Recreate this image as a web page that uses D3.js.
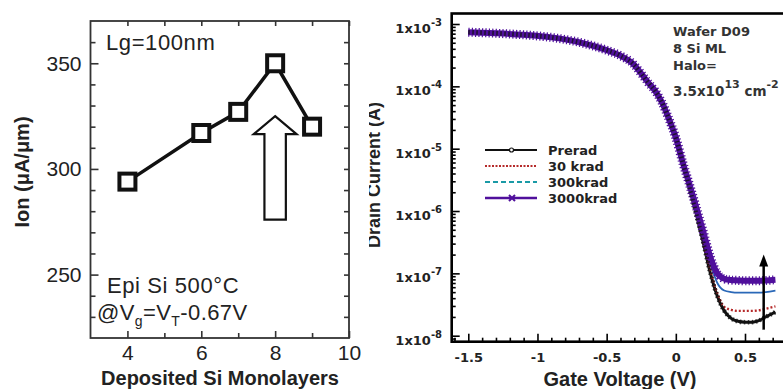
<!DOCTYPE html>
<html><head><meta charset="utf-8">
<script src="https://cdn.jsdelivr.net/npm/d3@7"></script>
<style>body{margin:0;background:#fff}svg{display:block}</style>
</head><body>
<svg id="c" width="783" height="389"></svg>
<script>
// ---------- Left panel data ----------
const monolayers = [4, 6, 7, 8, 9];
const ionValues = [294, 317, 327, 350, 320];
const leftXTicks = [4, 6, 8, 10];
const leftXMinor = [5, 7, 9];
const leftYTicks = [250, 300, 350];
const leftYMinor = [230, 240, 260, 270, 280, 290, 310, 320, 330, 340, 360];
const hollowArrow = {x: 8, tip: 325, neck: 316.5, base: 276, shaftHalf: 0.29, headHalf: 0.58};

// ---------- Right panel data ----------
const gateV = [-1.5,-1.3,-1.1,-0.9,-0.7,-0.5,-0.4,-0.3,-0.25,-0.2,-0.15,-0.1,-0.05,0,0.05,0.1,0.15,0.2,0.25,0.3,0.35,0.4,0.45,0.5,0.55,0.6,0.65,0.72];
const prerad   = [7.4e-4,7.1e-4,6.7e-4,6.1e-4,5.1e-4,3.8e-4,3.1e-4,2.2e-4,1.6e-4,1.15e-4,8.5e-5,5.5e-5,3.0e-5,1.5e-5,6.0e-6,2.3e-6,8.5e-7,3.0e-7,1.0e-7,4.3e-8,2.5e-8,1.9e-8,1.7e-8,1.65e-8,1.65e-8,1.75e-8,2.0e-8,2.4e-8];
const krad30   = [7.4e-4,7.1e-4,6.7e-4,6.1e-4,5.1e-4,3.8e-4,3.1e-4,2.2e-4,1.6e-4,1.15e-4,8.5e-5,5.5e-5,3.0e-5,1.5e-5,6.0e-6,2.4e-6,9.0e-7,3.2e-7,1.1e-7,4.8e-8,2.9e-8,2.6e-8,2.5e-8,2.5e-8,2.5e-8,2.55e-8,2.7e-8,2.95e-8];
const krad300  = [7.4e-4,7.1e-4,6.7e-4,6.1e-4,5.1e-4,3.8e-4,3.1e-4,2.2e-4,1.6e-4,1.15e-4,8.5e-5,5.5e-5,3.0e-5,1.5e-5,6.0e-6,2.6e-6,1.05e-6,4.2e-7,1.5e-7,7.0e-8,5.3e-8,5.0e-8,4.9e-8,4.9e-8,4.9e-8,4.9e-8,5.0e-8,5.3e-8];
const krad3000 = [7.4e-4,7.1e-4,6.7e-4,6.1e-4,5.1e-4,3.8e-4,3.1e-4,2.2e-4,1.6e-4,1.15e-4,8.5e-5,5.5e-5,3.0e-5,1.5e-5,6.0e-6,2.6e-6,1.1e-6,4.5e-7,1.8e-7,1.0e-7,8.2e-8,7.8e-8,7.7e-8,7.6e-8,7.6e-8,7.6e-8,7.7e-8,7.9e-8];
const seriesNames = ["Prerad", "30 krad", "300krad", "3000krad"];
const rightXTicks = [-1.5, -1, -0.5, 0, 0.5];
const rightXTickLabels = ["-1.5", "-1", "-0.5", "0", "0.5"];
const rightYTicks = [1e-3, 1e-4, 1e-5, 1e-6, 1e-7, 1e-8];
const rightYExp = ["-3", "-4", "-5", "-6", "-7", "-8"];
const doseArrow = {v: 0.635, from: 1.25e-8, to: 2.0e-7};

const svg = d3.select("#c");
svg.append("rect").attr("width", 783).attr("height", 389).attr("fill", "#fff");

// ================= LEFT PANEL =================
const xL = d3.scaleLinear([3, 10], [90.5, 349]);
const yL = d3.scaleLinear([220, 370], [338, 21]);
const L = svg.append("g");
const lfont = "'Liberation Sans', Arial, sans-serif";
const axisCol = "#333";

function styleAxis(g, size) {
  g.select(".domain").remove();
  g.selectAll("line").attr("stroke", axisCol).attr("stroke-width", 1.6);
  g.selectAll("text").attr("font-family", lfont).attr("font-size", size).attr("fill", "#222");
}
L.append("g").attr("transform", `translate(${xL(3)},0)`)
  .call(d3.axisLeft(yL).tickValues(leftYTicks).tickSize(-8).tickPadding(9).tickFormat(d3.format("d")))
  .call(g => styleAxis(g, 21));
L.append("g").attr("transform", `translate(${xL(3)},0)`)
  .call(d3.axisLeft(yL).tickValues(leftYMinor).tickSize(-5).tickFormat(""))
  .call(g => styleAxis(g, 21));
L.append("g").attr("transform", `translate(${xL(10)},0)`)
  .call(d3.axisRight(yL).tickValues(leftYTicks.concat(leftYMinor)).tickSize(-5).tickFormat(""))
  .call(g => styleAxis(g, 21));
L.append("g").attr("transform", `translate(0,${yL(220)})`)
  .call(d3.axisBottom(xL).tickValues(leftXTicks).tickSize(-7).tickPadding(7).tickFormat(d3.format("d")))
  .call(g => styleAxis(g, 21));
L.append("g").attr("transform", `translate(0,${yL(220)})`)
  .call(d3.axisBottom(xL).tickValues(leftXMinor).tickSize(-5).tickFormat(""))
  .call(g => styleAxis(g, 21));
L.append("g").attr("transform", `translate(0,${yL(370)})`)
  .call(d3.axisTop(xL).tickValues(leftXTicks.concat(leftXMinor)).tickSize(-5).tickFormat(""))
  .call(g => styleAxis(g, 21));
L.append("rect").attr("x", xL(3)).attr("y", yL(370))
  .attr("width", xL(10) - xL(3)).attr("height", yL(220) - yL(370))
  .attr("fill", "none").attr("stroke", axisCol).attr("stroke-width", 1.8);

const leftPts = monolayers.map((m, i) => [m, ionValues[i]]);
L.append("path").datum(leftPts)
  .attr("d", d3.line().x(d => xL(d[0])).y(d => yL(d[1])))
  .attr("fill", "none").attr("stroke", "#111").attr("stroke-width", 3.5);
L.selectAll("rect.mk").data(leftPts).join("rect").attr("class", "mk")
  .attr("x", d => xL(d[0]) - 8).attr("y", d => yL(d[1]) - 8)
  .attr("width", 16).attr("height", 16)
  .attr("fill", "#fff").attr("stroke", "#111").attr("stroke-width", 4);

// hollow arrow
const A = hollowArrow;
const arrowPts = [
  [A.x, A.tip], [A.x + A.headHalf, A.neck], [A.x + A.shaftHalf, A.neck], [A.x + A.shaftHalf, A.base],
  [A.x - A.shaftHalf, A.base], [A.x - A.shaftHalf, A.neck], [A.x - A.headHalf, A.neck]
];
L.append("path").attr("d", d3.line().x(d => xL(d[0])).y(d => yL(d[1]))(arrowPts) + "Z")
  .attr("fill", "#fff").attr("stroke", "#111").attr("stroke-width", 2.2).attr("stroke-linejoin", "miter");

// annotations
const annFont = "'Liberation Sans', Arial, sans-serif";
L.append("text").attr("x", 106).attr("y", 50).attr("font-family", annFont).attr("font-size", 22)
  .attr("letter-spacing", 0.6).attr("fill", "#222").text("Lg=100nm");
L.append("text").attr("x", 107).attr("y", 293).attr("font-family", annFont).attr("font-size", 22)
  .attr("letter-spacing", 0.6).attr("fill", "#222").text("Epi Si 500°C");
const t3 = L.append("text").attr("x", 97).attr("y", 320).attr("font-family", annFont).attr("font-size", 22)
  .attr("letter-spacing", 0.4).attr("fill", "#222");
t3.append("tspan").text("@V");
t3.append("tspan").attr("font-size", 14).attr("dy", 6).text("g");
t3.append("tspan").attr("dy", -6).text("=V");
t3.append("tspan").attr("font-size", 14).attr("dy", 6).text("T");
t3.append("tspan").attr("dy", -6).text("-0.67V");

// axis titles
L.append("text").attr("x", 220).attr("y", 385).attr("text-anchor", "middle")
  .attr("font-family", lfont).attr("font-weight", "bold").attr("font-size", 20).attr("fill", "#222")
  .text("Deposited Si Monolayers");
L.append("text").attr("transform", "translate(29,172) rotate(-90)").attr("text-anchor", "middle")
  .attr("font-family", lfont).attr("font-weight", "bold").attr("font-size", 20).attr("fill", "#222")
  .text("Ion (μA/μm)");

// ================= RIGHT PANEL =================
const xR = d3.scaleLinear([-1.5, 0.5], [468.3, 745]);
const yR = d3.scaleLog([1e-8, 1e-3], [335.7, 24]);
const frameL = 451.7, frameT = 13.5, frameB = 341.7, frameR = 790;
const R = svg.append("g");
const rfont = "'DejaVu Sans', sans-serif";
svg.append("defs").append("clipPath").attr("id", "rclip")
  .append("rect").attr("x", 369).attr("y", 0).attr("width", 430).attr("height", 389);
const RC = R.append("g").attr("clip-path", "url(#rclip)");

// curves
const idx = gateV.map((v, i) => i);
const lineR = arr => d3.line().curve(d3.curveMonotoneX).x(i => xR(gateV[i])).y(i => yR(arr[i]))(idx);
const curveStyles = [
  {data: prerad, color: "#111", width: 3, dash: null},
  {data: krad30, color: "#b52a2a", width: 2.4, dash: "2,2"},
  {data: krad300, color: "#2a68b8", width: 1.8, dash: null},
  {data: krad3000, color: "#50109c", width: 6, dash: null}
];
svg.select("defs").append("clipPath").attr("id", "pclip")
  .append("rect").attr("x", frameL).attr("y", frameT).attr("width", 783 - frameL).attr("height", frameB - frameT);
const P = R.append("g").attr("clip-path", "url(#pclip)");
curveStyles.forEach(s => {
  P.append("path").attr("d", lineR(s.data)).attr("fill", "none")
    .attr("stroke", s.color).attr("stroke-width", s.width)
    .attr("stroke-dasharray", s.dash).attr("stroke-linejoin", "round");
});
// marker texture on the 3000krad curve
P.append("path").attr("d", lineR(krad3000)).attr("fill", "none")
  .attr("stroke", "#50109c").attr("stroke-width", 9).attr("stroke-dasharray", "1.2,2.2");
// preraad markers texture near bottom
P.append("path").attr("d", lineR(prerad)).attr("fill", "none")
  .attr("stroke", "#111").attr("stroke-width", 4.5).attr("stroke-dasharray", "1.5,2.5").attr("opacity", 0.8);

// dose arrow
const ax = xR(doseArrow.v), ay0 = yR(doseArrow.from), ay1 = yR(doseArrow.to);
R.append("line").attr("x1", ax).attr("x2", ax).attr("y1", ay0).attr("y2", ay1 + 8)
  .attr("stroke", "#000").attr("stroke-width", 2.5);
R.append("path").attr("d", `M${ax},${ay1} L${ax + 4.5},${ay1 + 12} L${ax - 4.5},${ay1 + 12} Z`).attr("fill", "#000");

// axes
function styleR(g) {
  g.select(".domain").remove();
  g.selectAll("line").attr("stroke", "#000").attr("stroke-width", 1.6);
  g.selectAll("text").attr("font-family", rfont).attr("font-weight", "bold").attr("font-size", 13).attr("fill", "#222");
}
const yMinor = [];
for (let e = -9; e <= -3; e++) for (let k = 2; k <= 9; k++) { const v = k * Math.pow(10, e); if (v > 8e-9 && v < 1.45e-3) yMinor.push(v); }
R.append("g").attr("transform", `translate(${frameL},0)`)
  .call(d3.axisLeft(yR).tickValues(rightYTicks).tickSize(-8).tickFormat(""))
  .call(styleR);
R.append("g").attr("transform", `translate(${frameL},0)`)
  .call(d3.axisLeft(yR).tickValues(yMinor).tickSize(-4).tickFormat(""))
  .call(styleR);
const xMinor = d3.range(-16, 8).map(d => d / 10).filter(d => !rightXTicks.some(t => Math.abs(t - d) < 1e-9) && d > -1.62);
R.append("g").attr("transform", `translate(0,${frameB})`)
  .call(d3.axisBottom(xR).tickValues(rightXTicks).tickSize(-8).tickPadding(11).tickFormat((d, i) => rightXTickLabels[i]))
  .call(styleR);
R.append("g").attr("transform", `translate(0,${frameB})`)
  .call(d3.axisBottom(xR).tickValues(xMinor).tickSize(-4).tickFormat(""))
  .call(styleR);
// y tick labels with superscripts
rightYTicks.forEach((v, i) => {
  const t = R.append("text").attr("x", 442).attr("y", yR(v) + 9).attr("text-anchor", "end")
    .attr("font-family", rfont).attr("font-weight", "bold").attr("font-size", 13).attr("fill", "#222");
  t.append("tspan").text("1x10");
  t.append("tspan").attr("font-size", 10).attr("dy", -7).text(rightYExp[i]);
});
// frame
R.append("rect").attr("x", frameL).attr("y", frameT).attr("width", frameR - frameL).attr("height", frameB - frameT)
  .attr("fill", "none").attr("stroke", "#000").attr("stroke-width", 2.6);

// legend
const legY = [150, 166, 182, 198];
const legX0 = 485, legX1 = 537;
const legStyles = [
  {color: "#111", width: 2.2, dash: null},
  {color: "#b52a2a", width: 2.2, dash: "2,1.5"},
  {color: "#1a9aa6", width: 2.2, dash: "5,3"},
  {color: "#50109c", width: 2.4, dash: null}
];
seriesNames.forEach((name, i) => {
  const s = legStyles[i];
  R.append("line").attr("x1", legX0).attr("x2", legX1).attr("y1", legY[i]).attr("y2", legY[i])
    .attr("stroke", s.color).attr("stroke-width", s.width).attr("stroke-dasharray", s.dash);
  R.append("text").attr("x", 548).attr("y", legY[i] + 5).attr("font-family", rfont).attr("font-weight", "bold")
    .attr("font-size", 13).attr("fill", "#222").text(name);
});
R.append("circle").attr("cx", 511.5).attr("cy", legY[0]).attr("r", 2).attr("fill", "#fff").attr("stroke", "#111").attr("stroke-width", 1.2);
R.append("path").attr("d", `M509,${legY[3] - 3} L515,${legY[3] + 3} M515,${legY[3] - 3} L509,${legY[3] + 3}`)
  .attr("stroke", "#50109c").attr("stroke-width", 2);

// annotation
const ann = ["Wafer D09", "8 Si ML", "Halo="];
const annY = [36, 53, 70];
ann.forEach((a, i) => R.append("text").attr("x", 673).attr("y", annY[i]).attr("font-family", rfont)
  .attr("font-weight", "bold").attr("font-size", 13).attr("fill", "#333").text(a));
const a4 = R.append("text").attr("x", 673).attr("y", 96).attr("font-family", rfont)
  .attr("font-weight", "bold").attr("font-size", 13.5).attr("fill", "#333");
a4.append("tspan").text("3.5x10");
a4.append("tspan").attr("font-size", 11).attr("dy", -8).text("13");
a4.append("tspan").attr("dy", 8).text(" cm");
a4.append("tspan").attr("font-size", 11).attr("dy", -8).text("-2");

// axis titles
R.append("text").attr("x", 620).attr("y", 386).attr("text-anchor", "middle")
  .attr("font-family", lfont).attr("font-weight", "bold").attr("font-size", 20).attr("fill", "#222")
  .text("Gate Voltage (V)");
RC.append("text").attr("transform", "translate(380,175) rotate(-90)").attr("text-anchor", "middle")
  .attr("font-family", lfont).attr("font-weight", "bold").attr("font-size", 18).attr("fill", "#222")
  .text("Drain Current (A)");
</script>
</body></html>
